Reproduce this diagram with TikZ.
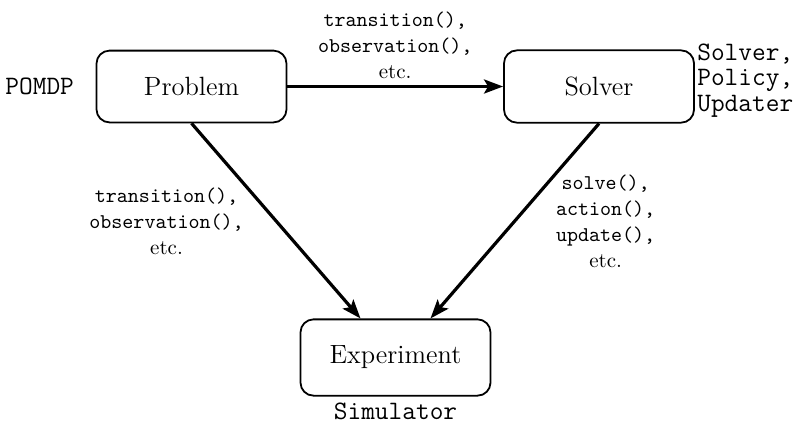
\documentclass[tikz,border=0pt]{standalone}
\usetikzlibrary{arrows.meta,positioning}
\begin{document}
\begin{tikzpicture}[x=0.5pt,y=-0.5pt,
  box/.style={draw, line width=0.9pt, rounded corners=6.5pt, minimum width=95pt, inner ysep=13.3pt, font=\fontsize{13.2}{15}\selectfont},
  conn/.style={line width=1.6pt, -{Stealth[length=9.5pt,width=7pt,inset=2pt]}},
  elabel/.style={align=center, font=\fontsize{10.5}{13}\selectfont},
  side/.style={font=\fontsize{13.3}{12.6}\selectfont\ttfamily}]
\useasboundingbox (0,0) rectangle (798,425);
\node[box] (prob) at (191.5,86.5) {Problem};
\node[box] (solv) at (599,86.5) {Solver};
\node[box] (exp) at (395.5,357.5) {Experiment};
\draw[conn] (prob.east) -- node[elabel, above]{\texttt{transition(),}\\\texttt{observation(),}\\etc.} (solv.west);
\draw[conn] (prob.south) -- node[elabel, left=12pt]{\texttt{transition(),}\\\texttt{observation(),}\\etc.} ([xshift=-17.5pt]exp.north);
\draw[conn] (solv.south) -- node[elabel, right=16.5pt]{\texttt{solve(),}\\\texttt{action(),}\\\texttt{update(),}\\etc.} ([xshift=17.5pt]exp.north);
\node[side, left=7.3pt of prob] (pomdp) {POMDP};
\node[side, align=left, anchor=west, inner sep=1pt] (names) at ([yshift=3pt]solv.east) {Solver,\\Policy,\\Updater};
\node[side, below=3pt of exp, inner ysep=0pt] (sim) {Simulator};
\end{tikzpicture}
\end{document}
